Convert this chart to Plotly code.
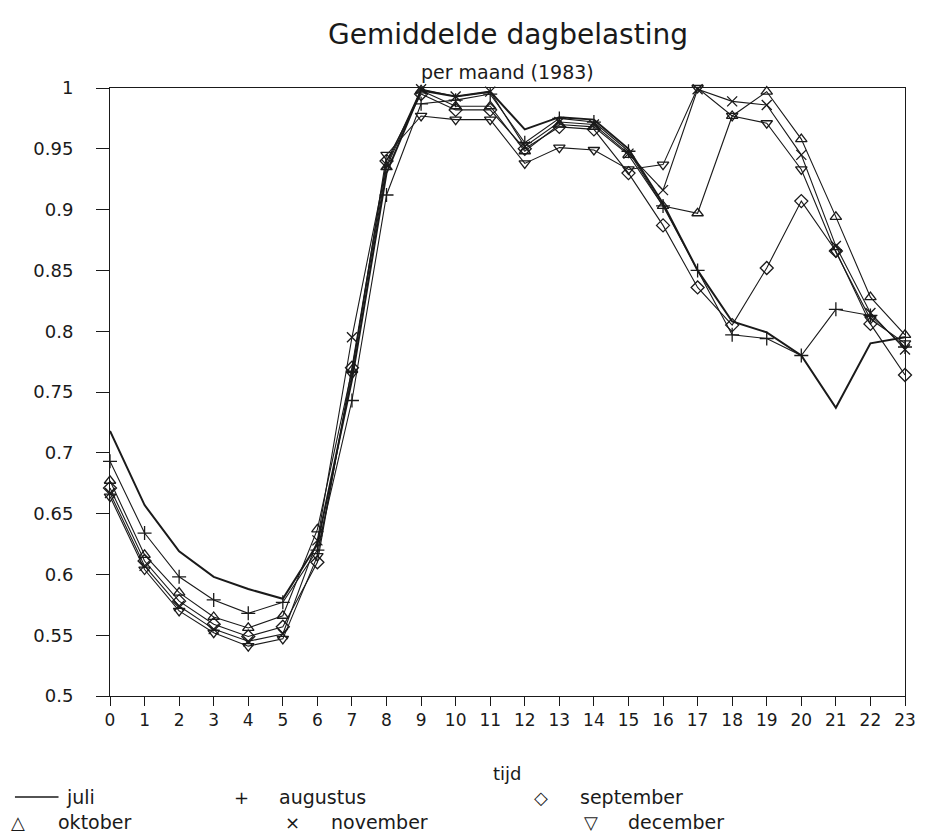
import plotly.graph_objects as go

# Hour of day
hours = list(range(24))

# Normalised average daily load per month (1983)
juli = [0.718, 0.657, 0.619, 0.598, 0.588, 0.580, 0.625, 0.760, 0.930, 0.998, 0.993, 0.997,
        0.966, 0.976, 0.974, 0.950, 0.905, 0.850, 0.808, 0.799, 0.780, 0.737, 0.790, 0.795]
augustus = [0.693, 0.634, 0.598, 0.579, 0.568, 0.577, 0.620, 0.743, 0.912, 0.987, 0.990, 0.995,
            0.955, 0.975, 0.972, 0.948, 0.903, 0.850, 0.797, 0.794, 0.780, 0.818, 0.813, 0.787]
september = [0.671, 0.611, 0.578, 0.559, 0.549, 0.557, 0.610, 0.770, 0.940, 0.995, 0.982, 0.982,
             0.950, 0.968, 0.966, 0.930, 0.887, 0.836, 0.805, 0.852, 0.907, 0.866, 0.806, 0.764]
oktober = [0.677, 0.616, 0.585, 0.565, 0.556, 0.566, 0.637, 0.768, 0.935, 0.998, 0.985, 0.985,
           0.948, 0.970, 0.968, 0.945, 0.903, 0.897, 0.977, 0.997, 0.958, 0.894, 0.828, 0.797]
november = [0.667, 0.607, 0.574, 0.555, 0.545, 0.551, 0.628, 0.795, 0.937, 0.999, 0.993, 0.997,
            0.952, 0.972, 0.970, 0.946, 0.916, 0.999, 0.989, 0.986, 0.945, 0.870, 0.815, 0.785]
december = [0.664, 0.604, 0.570, 0.552, 0.541, 0.547, 0.615, 0.765, 0.945, 0.977, 0.974, 0.974,
            0.938, 0.951, 0.949, 0.933, 0.937, 1.000, 0.977, 0.971, 0.933, 0.865, 0.810, 0.790]

y_ticks = [0.5, 0.55, 0.6, 0.65, 0.7, 0.75, 0.8, 0.85, 0.9, 0.95, 1.0]
y_tick_labels = ["0.5", "0.55", "0.6", "0.65", "0.7", "0.75", "0.8", "0.85", "0.9", "0.95", "1"]

INK = "#1a1a1a"
FONT = "DejaVu Sans"

series = [
    ("juli", juli, None),
    ("augustus", augustus, "cross-thin-open"),
    ("september", september, "diamond-open"),
    ("oktober", oktober, "triangle-up-open"),
    ("november", november, "x-thin-open"),
    ("december", december, "triangle-down-open"),
]

fig = go.Figure()
for name, values, symbol in series:
    if symbol is None:
        fig.add_trace(go.Scatter(
            x=hours, y=values, name=name, mode="lines",
            line=dict(color=INK, width=2), cliponaxis=False,
        ))
    else:
        fig.add_trace(go.Scatter(
            x=hours, y=values, name=name, mode="lines+markers",
            line=dict(color=INK, width=1.1),
            marker=dict(symbol=symbol, size=10, color=INK,
                        line=dict(color=INK, width=1.3)),
            cliponaxis=False,
        ))

# Plot area spans x 110..913 px and y 88..696 px
L, R, T, B = 110, 913, 88, 696
W, H = 928, 837

fig.update_layout(
    width=W, height=H,
    margin=dict(l=L, r=W - R, t=T, b=H - B),
    paper_bgcolor="white", plot_bgcolor="white",
    showlegend=False,
    font=dict(family=FONT, color=INK, size=18),
    xaxis=dict(
        range=[0, 23], tickmode="array", tickvals=hours,
        ticks="outside", ticklen=9, tickwidth=1, tickcolor=INK,
        showline=True, linecolor=INK, linewidth=1, mirror=True,
        showgrid=False, zeroline=False,
        tickfont=dict(size=17),
    ),
    yaxis=dict(
        range=[0.5, 1.0], tickmode="array", tickvals=y_ticks, ticktext=y_tick_labels,
        ticks="outside", ticklen=13, tickwidth=1, tickcolor=INK,
        showline=True, linecolor=INK, linewidth=1, mirror=True,
        showgrid=False, zeroline=False, ticklabelstandoff=19,
        tickfont=dict(size=18),
    ),
)


def px_x(px):
    return (px - L) / (R - L)


def px_y(py):
    return (B - py) / (B - T)


def add_text(text, x, y, size, anchor="center"):
    fig.add_annotation(text=text, x=px_x(x), y=px_y(y),
                       xref="paper", yref="paper", showarrow=False,
                       xanchor=anchor, yanchor="middle",
                       font=dict(size=size, family=FONT, color=INK))


# Titles and axis label
add_text("Gemiddelde dagbelasting", 512, 35, 28)
add_text("per maand (1983)", 511, 72, 19)
add_text("tijd", 511, 773, 18)

# Legend rows under the axis: (label, symbol, symbol x, label x, row y)
legend_rows = [
    ("juli", None, None, 64, 797),
    ("augustus", "+", 243, 279, 797),
    ("september", "◇", 545, 583, 797),
    ("oktober", "△", 17, 55, 822),
    ("november", "×", 294, 331, 822),
    ("december", "▽", 596, 631, 822),
]
for name, sym, sx, tx, ty in legend_rows:
    if sym is None:
        fig.add_shape(type="line", xref="paper", yref="paper",
                      x0=px_x(14), x1=px_x(58), y0=px_y(ty), y1=px_y(ty),
                      line=dict(color=INK, width=1.5))
    else:
        add_text(sym, sx, ty, 18)
    add_text(name, tx, ty, 19, anchor="left")

fig.write_html("out.html")
